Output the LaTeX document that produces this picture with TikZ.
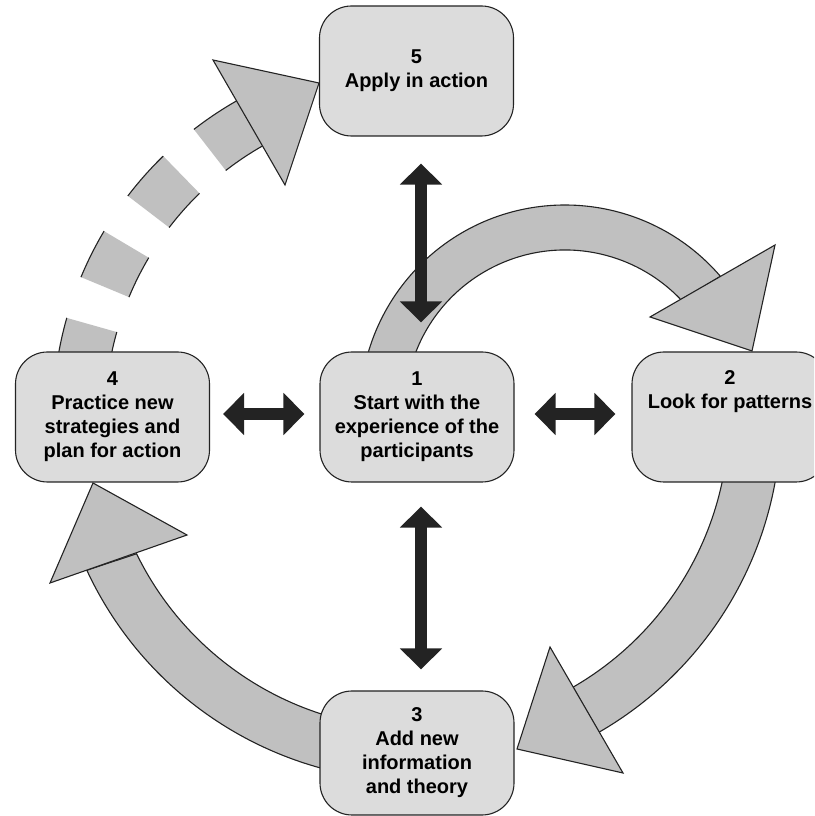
\documentclass[tikz,border=0pt]{standalone}
\usepackage{fontspec}
\setmainfont{Liberation Sans}
\usetikzlibrary{arrows.meta,calc}
\definecolor{boxgray}{RGB}{220,220,220}
\definecolor{bandgray}{RGB}{192,192,192}
\definecolor{ink}{RGB}{35,35,35}
\tikzstyle{stagebox} = [draw=ink, line width=1.1pt, fill=boxgray, rounded corners=32pt, minimum width=194pt, minimum height=130pt, align=center, inner sep=0pt]
\tikzstyle{bandfill} = [fill=bandgray]
\tikzstyle{bandedge} = [draw=ink, line width=1.1pt]
\tikzstyle{twoway} = [draw=ink, line width=12.5pt, {Triangle[width=41pt,length=21pt]}-{Triangle[width=41pt,length=21pt]}]
\newcommand{\cyclepiece}[2]{
  \fill[bandfill] ($(hub)+(#1:312pt)$) arc[start angle=#1, end angle=#2, radius=312pt]
    -- ($(hub)+(#2:364pt)$) arc[start angle=#2, end angle=#1, radius=364pt] -- cycle;
  \draw[bandedge] ($(hub)+(#1:312pt)$) arc[start angle=#1, end angle=#2, radius=312pt]
    ($(hub)+(#1:364pt)$) arc[start angle=#1, end angle=#2, radius=364pt];
}
\newcommand{\headtri}[3]{
  \filldraw[bandfill, bandedge, line join=miter] #1 -- #2 -- #3 -- cycle;
}

\begin{document}
\begin{tikzpicture}[x=1pt,y=1pt]
\tikzstyle{every node}=[font=\fontsize{20}{24}\selectfont\bfseries]
\useasboundingbox (0,0) rectangle (814,816);
\clip (0,0) rectangle (814,816);
\coordinate (hub) at (417,399);
\coordinate (hubsmall) at (565,406);

% small loop over stage 1
\filldraw[bandfill, bandedge] ($(hubsmall)+(165:160pt)$) arc[start angle=165, end angle=43.4, radius=160pt]
  -- ($(hubsmall)+(40.7:205pt)$) arc[start angle=40.7, end angle=165, radius=205pt] -- cycle;
\headtri{(650,499)}{(752,465)}{(775,571)}

% big ring, 2 -> 3 -> 4
\filldraw[bandfill, bandedge] ($(hub)+(-5:312pt)$) arc[start angle=-5, end angle=-60, radius=312pt]
  -- ($(hub)+(-60:364pt)$) arc[start angle=-60, end angle=-5, radius=364pt] -- cycle;
\headtri{(550,169)}{(517,67)}{(623,43)}
\filldraw[bandfill, bandedge] ($(hub)+(257:312pt)$) arc[start angle=257, end angle=206, radius=312pt]
  -- ($(hub)+(204.9:364pt)$) arc[start angle=204.9, end angle=257, radius=364pt] -- cycle;
\headtri{(187,281)}{(93,333)}{(50,233)}

% broken ring, 4 -> 5
\foreach \a/\b in {164.2/172, 149.3/157.4, 134.2/142.6, 119.7/127.8}{
  \cyclepiece{\b}{\a}
}
\headtri{(213,756)}{(319,733)}{(285,631)}

% stages
\node[stagebox] (s5) at (416.5,745) {5\\Apply in action};
\node[stagebox] (s1) at (417,399) {1\\Start with the\\experience of the\\participants};
\node[stagebox] (s4) at (112.5,399) {4\\Practice new\\strategies and\\plan for action};
\node[stagebox, minimum width=196pt] (s2) at (730,399) {2\\Look for patterns\\\strut\\\strut};
\node[stagebox, minimum height=124pt] (s3) at (417,63) {3\\Add new\\information\\and theory};

% two-way links
\draw[twoway, shorten <=27pt, shorten >=29pt] ([xshift=4.5pt]s5.south) -- ([xshift=4pt]s1.north);
\draw[twoway, shorten <=24pt, shorten >=21pt] ([xshift=4pt]s1.south) -- ([xshift=4pt]s3.north);
\draw[twoway, shorten <=13pt, shorten >=15pt] ([yshift=3pt]s4.east) -- ([yshift=3pt]s1.west);
\draw[twoway, shorten <=20pt, shorten >=16pt] ([yshift=3pt]s1.east) -- ([yshift=3pt]s2.west);
\end{tikzpicture}
\end{document}
